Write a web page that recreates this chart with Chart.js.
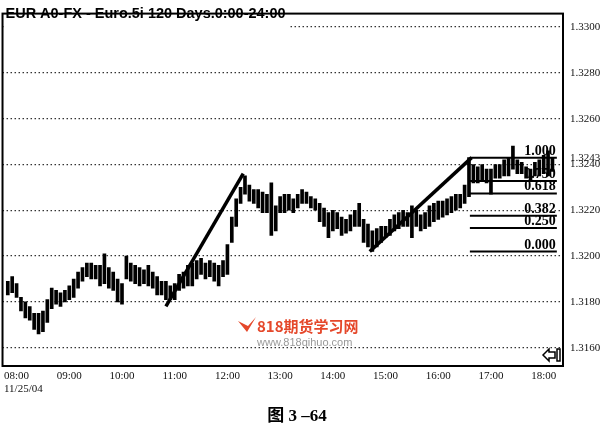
<!DOCTYPE html>
<html>
<head>
<meta charset="utf-8">
<script src="https://cdn.jsdelivr.net/npm/chart.js@4.4.0/dist/chart.umd.min.js"></script>
<style>
  html, body { margin: 0; padding: 0; background: #fff; }
</style>
</head>
<body>
<canvas id="fibChart" width="602" height="430"></canvas>
<script>
// 5 minute bars, 07:50 .. 18:10 (minutes after 08:00)
const firstBar = -10;
const barStep = 5;

const highs = [
  1.3189,1.3191,1.3188,1.3182,1.3180,1.3178,1.3175,1.3175,1.3176,1.3181,
  1.3186,1.3185,1.3184,1.3185,1.3187,1.3190,1.3193,1.3195,1.3197,1.3197,
  1.3196,1.3196,1.3201,1.3195,1.3193,1.3190,1.3188,1.3200,1.3197,1.3196,
  1.3195,1.3194,1.3196,1.3193,1.3191,1.3189,1.3189,1.3187,1.3188,1.3192,
  1.3193,1.3196,1.3197,1.3198,1.3199,1.3197,1.3198,1.3197,1.3196,1.3198,
  1.3205,1.3217,1.3225,1.3230,1.3235,1.3231,1.3229,1.3229,1.3228,1.3227,
  1.3232,1.3222,1.3226,1.3227,1.3227,1.3225,1.3227,1.3229,1.3228,1.3226,
  1.3225,1.3223,1.3221,1.3219,1.3220,1.3219,1.3217,1.3216,1.3218,1.3220,
  1.3223,1.3216,1.3214,1.3211,1.3212,1.3213,1.3213,1.3216,1.3218,1.3219,
  1.3220,1.3219,1.3222,1.3220,1.3218,1.3219,1.3222,1.3223,1.3224,1.3224,
  1.3225,1.3226,1.3227,1.3227,1.3231,1.3243,1.3240,1.3239,1.3240,1.3238,
  1.3238,1.3240,1.3240,1.3242,1.3243,1.3248,1.3242,1.3241,1.3239,1.3238,
  1.3241,1.3242,1.3244,1.3246,1.3243
];
const lows = [
  1.3183,1.3184,1.3182,1.3176,1.3173,1.3172,1.3168,1.3166,1.3167,1.3171,
  1.3177,1.3179,1.3178,1.3180,1.3181,1.3182,1.3186,1.3189,1.3191,1.3190,
  1.3190,1.3187,1.3188,1.3186,1.3185,1.3180,1.3179,1.3190,1.3189,1.3188,
  1.3187,1.3188,1.3187,1.3186,1.3183,1.3183,1.3181,1.3181,1.3181,1.3185,
  1.3186,1.3187,1.3187,1.3190,1.3192,1.3190,1.3191,1.3189,1.3187,1.3191,
  1.3192,1.3206,1.3213,1.3223,1.3227,1.3224,1.3223,1.3221,1.3219,1.3219,
  1.3209,1.3211,1.3219,1.3219,1.3220,1.3219,1.3221,1.3223,1.3223,1.3221,
  1.3220,1.3215,1.3213,1.3208,1.3211,1.3212,1.3209,1.3210,1.3211,1.3213,
  1.3213,1.3206,1.3204,1.3202,1.3204,1.3206,1.3208,1.3209,1.3211,1.3212,
  1.3213,1.3213,1.3208,1.3213,1.3211,1.3212,1.3213,1.3215,1.3216,1.3217,
  1.3218,1.3219,1.3220,1.3221,1.3223,1.3226,1.3232,1.3232,1.3233,1.3232,
  1.3227,1.3234,1.3234,1.3235,1.3235,1.3238,1.3236,1.3236,1.3234,1.3233,
  1.3235,1.3235,1.3236,1.3235,1.3237
];

const hourLabels = ['08:00','09:00','10:00','11:00','12:00','13:00','14:00','15:00','16:00','17:00','18:00'];
const priceTicks = [1.3300, 1.3280, 1.3260, 1.3240, 1.3220, 1.3200, 1.3180, 1.3160];
const lastPrice = 1.3243;

// trend lines [minute, price]
const trendUp1 = [[170, 1.3178], [258, 1.3236]];
const trendUp2 = [[402, 1.3202], [518, 1.3243]];

// fibonacci retracement
const fibRatios = [1.000, 0.750, 0.618, 0.382, 0.250, 0.000];
const fibLabels = ['1.000', '0.750', '0.618', '0.382', '0.250', '0.000'];
const fibLow = 1.3202, fibHigh = 1.3243;
const fibStart = 516, fibEnd = 615;

const titleText = 'EUR A0-FX - Euro.5i 120 Days.0:00-24:00';
const dateText = '11/25/04';
const captionText = '图 3 –64';

const barData = highs.map((h, i) => ({ x: firstBar + i * barStep, y: [lows[i], h] }));
const lineSet = (pts, w) => ({
  type: 'line',
  data: pts.map(p => ({ x: p[0], y: p[1] })),
  borderColor: '#000', borderWidth: w, pointRadius: 0, tension: 0
});
const fibPrice = r => fibLow + r * (fibHigh - fibLow);
const fibSets = fibRatios.map(r => lineSet([[fibStart, fibPrice(r)], [fibEnd, fibPrice(r)]], 2));

const decorations = {
  id: 'decorations',
  beforeDatasetsDraw(chart) {
    const { ctx, chartArea: a, scales: { x, y } } = chart;
    // title over the top grid line
    ctx.save();
    ctx.fillStyle = '#fff';
    ctx.fillRect(a.left + 1, a.top + 2, 286, 20);
    ctx.font = 'bold 14px "Liberation Sans", Arial, sans-serif';
    const w = ctx.measureText(titleText).width;
    ctx.fillStyle = '#000';
    ctx.translate(a.left + 3, 0);
    ctx.scale(280 / w, 1);
    ctx.textBaseline = 'alphabetic';
    ctx.fillText(titleText, 0, 18);
    ctx.restore();

    // fib labels
    ctx.save();
    ctx.font = 'bold 14px "Liberation Serif", "Times New Roman", serif';
    ctx.fillStyle = '#000';
    ctx.textAlign = 'right';
    ctx.textBaseline = 'alphabetic';
    fibRatios.forEach((r, i) => {
      ctx.fillText(fibLabels[i], x.getPixelForValue(fibEnd) - 1, y.getPixelForValue(fibPrice(r)) - 3);
    });
    ctx.restore();
  },
  afterDraw(chart) {
    const { ctx, chartArea: a } = chart;
    ctx.save();
    // frame
    ctx.strokeStyle = '#000';
    ctx.lineWidth = 2;
    ctx.strokeRect(a.left, a.top, a.right - a.left, a.bottom - a.top);

    // arrow icon bottom right
    ctx.lineWidth = 1.5;
    ctx.beginPath();
    ctx.moveTo(543, 355); ctx.lineTo(549, 349); ctx.lineTo(549, 352);
    ctx.lineTo(555, 352); ctx.lineTo(555, 358); ctx.lineTo(549, 358);
    ctx.lineTo(549, 361); ctx.closePath();
    ctx.stroke();
    ctx.strokeRect(557, 349, 3, 12);

    // date under the axis
    ctx.fillStyle = '#111';
    ctx.font = '11px "Liberation Serif", "Times New Roman", serif';
    ctx.textBaseline = 'middle';
    ctx.fillText(dateText, 4, 389);

    // watermark
    ctx.fillStyle = '#e5482b';
    ctx.beginPath();
    ctx.moveTo(238, 321); ctx.lineTo(247, 332); ctx.lineTo(256, 317);
    ctx.lineTo(248, 326); ctx.closePath();
    ctx.fill();
    ctx.textBaseline = 'alphabetic';
    ctx.font = 'bold 15px "Noto Sans CJK SC", sans-serif';
    ctx.fillText('818期货学习网', 257, 332);
    ctx.fillStyle = '#999';
    ctx.font = '11px "Liberation Sans", Arial, sans-serif';
    ctx.fillText('www.818qihuo.com', 257, 346);

    // caption
    ctx.fillStyle = '#000';
    ctx.font = 'bold 17px "Liberation Serif", "Noto Sans CJK SC", serif';
    ctx.textAlign = 'center';
    ctx.fillText(captionText, 297, 421);
    ctx.restore();
  }
};

const ctx = document.getElementById('fibChart').getContext('2d');
new Chart(ctx, {
  type: 'bar',
  data: {
    datasets: [
      {
        data: barData,
        backgroundColor: '#000',
        barThickness: 3,
        borderSkipped: false
      },
      lineSet(trendUp1, 3.5),
      lineSet(trendUp2, 3.5),
      ...fibSets
    ]
  },
  options: {
    responsive: false,
    animation: false,
    layout: { padding: { left: 2, top: 1 } },
    plugins: { legend: { display: false }, tooltip: { enabled: false } },
    scales: {
      x: {
        type: 'linear',
        offset: false,
        min: -16,
        max: 622,
        grid: { display: false, drawTicks: false },
        border: { display: false },
        afterBuildTicks: s => { s.ticks = hourLabels.map((l, i) => ({ value: i * 60 })); },
        afterFit: s => { s.height = 64; },
        ticks: {
          padding: 4,
          maxRotation: 0,
          autoSkip: false,
          color: '#111',
          font: { family: '"Liberation Serif", "Times New Roman", serif', size: 11 },
          callback: (v) => hourLabels[Math.round(v / 60)]
        }
      },
      y: {
        position: 'right',
        min: 1.3152,
        max: 1.33059,
        afterBuildTicks: s => {
          s.ticks = priceTicks.map(v => ({ value: v })).concat([{ value: lastPrice }]);
        },
        afterFit: s => { s.width = 39; },
        grid: {
          drawTicks: false,
          lineWidth: 1.3,
          color: c => (c.tick && c.tick.value === lastPrice) ? 'rgba(0,0,0,0)' : '#333'
        },
        border: { display: false, dash: [1.5, 2.5] },
        ticks: {
          padding: 7,
          autoSkip: false,
          color: '#111',
          font: { family: '"Liberation Serif", "Times New Roman", serif', size: 11 },
          callback: v => v.toFixed(4)
        }
      }
    }
  },
  plugins: [decorations]
});
</script>
</body>
</html>
